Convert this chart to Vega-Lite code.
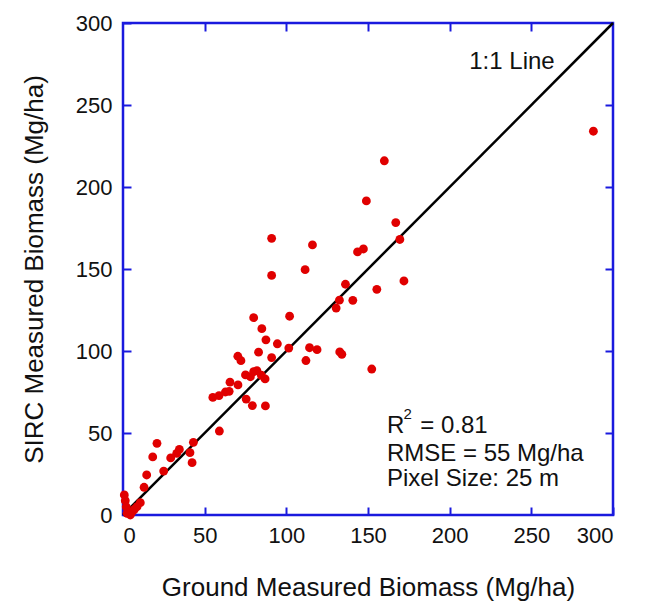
{
  "$schema": "https://vega.github.io/schema/vega-lite/v6.json",
  "autosize": {"type": "none"},
  "padding": {"left": 123, "top": 23, "right": 43, "bottom": 86},
  "width": 490,
  "height": 492,
  "background": "white",
  "config": {
    "view": {"stroke": "#1a1ade", "strokeWidth": 2.5},
    "font": "Liberation Sans",
    "axis": {"grid": false, "domain": false, "tickColor": "#1a1ade", "tickWidth": 2, "tickSize": -8, "labelFont": "Liberation Sans", "labelFontSize": 22, "labelColor": "#111", "titleFont": "Liberation Sans", "titleFontSize": 26, "titleFontWeight": "normal", "titleColor": "#111"}
  },
  "datasets": {
    "pts": [
      {"ground": 288, "sirc": 234}, {"ground": 160, "sirc": 216}, {"ground": 149, "sirc": 191.5}, {"ground": 167, "sirc": 178.3},
      {"ground": 169.5, "sirc": 168}, {"ground": 91, "sirc": 168.7}, {"ground": 116, "sirc": 164.7}, {"ground": 143.6, "sirc": 160.4},
      {"ground": 147.2, "sirc": 162.2}, {"ground": 91, "sirc": 146.1}, {"ground": 111.5, "sirc": 149.6}, {"ground": 136.2, "sirc": 140.7},
      {"ground": 172, "sirc": 142.7}, {"ground": 155.4, "sirc": 137.6}, {"ground": 140.7, "sirc": 130.9}, {"ground": 132.5, "sirc": 131},
      {"ground": 130.5, "sirc": 126.2}, {"ground": 80, "sirc": 120.3}, {"ground": 102, "sirc": 121.2}, {"ground": 85, "sirc": 113.6},
      {"ground": 87.5, "sirc": 106.8}, {"ground": 94.5, "sirc": 104.4}, {"ground": 83, "sirc": 99.3}, {"ground": 101.5, "sirc": 101.8},
      {"ground": 114.2, "sirc": 102}, {"ground": 118.8, "sirc": 100.8}, {"ground": 132.7, "sirc": 99.4}, {"ground": 134, "sirc": 98},
      {"ground": 91, "sirc": 96}, {"ground": 70.3, "sirc": 96.8}, {"ground": 72.2, "sirc": 94.1}, {"ground": 112, "sirc": 94.2},
      {"ground": 152.3, "sirc": 89}, {"ground": 75, "sirc": 85.4}, {"ground": 80, "sirc": 87.4}, {"ground": 82, "sirc": 88},
      {"ground": 87, "sirc": 83}, {"ground": 84.7, "sirc": 85.2}, {"ground": 78, "sirc": 84.3}, {"ground": 65.5, "sirc": 81},
      {"ground": 70.4, "sirc": 79.3}, {"ground": 55, "sirc": 71.7}, {"ground": 58.8, "sirc": 72.8}, {"ground": 62.7, "sirc": 75},
      {"ground": 65, "sirc": 75.4}, {"ground": 75.4, "sirc": 70.7}, {"ground": 79.2, "sirc": 66.7}, {"ground": 87.2, "sirc": 66.5},
      {"ground": 59, "sirc": 51.2}, {"ground": 43.1, "sirc": 44.3}, {"ground": 20.8, "sirc": 43.7}, {"ground": 34.5, "sirc": 40},
      {"ground": 41, "sirc": 38}, {"ground": 42.3, "sirc": 31.9}, {"ground": 29.2, "sirc": 34.8}, {"ground": 18.2, "sirc": 35.4},
      {"ground": 32.9, "sirc": 37.6}, {"ground": 24.9, "sirc": 26.8}, {"ground": 14.5, "sirc": 24.4}, {"ground": 12.9, "sirc": 16.9},
      {"ground": 0.8, "sirc": 12.2}, {"ground": 1.4, "sirc": 8.7}, {"ground": 10.6, "sirc": 7.5}, {"ground": 8.6, "sirc": 5.1},
      {"ground": 4.5, "sirc": 0}, {"ground": 5.7, "sirc": 2}, {"ground": 2.5, "sirc": 1}, {"ground": 7, "sirc": 3.5}, {"ground": 2, "sirc": 5}
    ],
    "line": [{"x": 0, "y": 0, "x2": 300, "y2": 300}],
    "notes": [
      {"x": 212, "y": 272, "t": "1:1 Line"},
      {"x": 161.6, "y": 49.8, "t": "R"},
      {"x": 182, "y": 49.8, "t": "= 0.81"},
      {"x": 161.6, "y": 32.8, "t": "RMSE = 55 Mg/ha"},
      {"x": 161.6, "y": 17.6, "t": "Pixel Size: 25 m"}
    ],
    "sup": [{"x": 171.7, "y": 58.7, "t": "2"}]
  },
  "layer": [
    {
      "data": {"name": "line"},
      "mark": {"type": "rule", "color": "black", "strokeWidth": 2.5},
      "encoding": {
        "x": {"field": "x", "type": "quantitative", "scale": {"domain": [0, 300], "nice": false},
              "axis": {"orient": "bottom", "values": [0, 50, 100, 150, 200, 250, 300], "labelPadding": 18, "title": "Ground Measured Biomass (Mg/ha)", "titlePadding": 28}},
        "y": {"field": "y", "type": "quantitative", "scale": {"domain": [0, 300], "nice": false},
              "axis": {"orient": "left", "values": [0, 50, 100, 150, 200, 250, 300], "labelPadding": 19, "title": "SIRC Measured Biomass (Mg/ha)", "titlePadding": 28}},
        "x2": {"field": "x2"},
        "y2": {"field": "y2"}
      }
    },
    {
      "data": {"name": "pts"},
      "mark": {"type": "circle", "color": "#e00000", "opacity": 1, "size": 78},
      "encoding": {
        "x": {"field": "ground", "type": "quantitative", "axis": {"orient": "top", "values": [50, 100, 150, 200, 250], "labels": false, "title": null}},
        "y": {"field": "sirc", "type": "quantitative", "axis": {"orient": "right", "values": [50, 100, 150, 200, 250], "labels": false, "title": null}}
      }
    },
    {
      "data": {"name": "notes"},
      "mark": {"type": "text", "align": "left", "baseline": "alphabetic", "fontSize": 24, "font": "Liberation Sans", "color": "#111"},
      "encoding": {
        "x": {"field": "x", "type": "quantitative", "axis": null},
        "y": {"field": "y", "type": "quantitative", "axis": null},
        "text": {"field": "t"}
      }
    },
    {
      "data": {"name": "sup"},
      "mark": {"type": "text", "align": "left", "baseline": "alphabetic", "fontSize": 15, "font": "Liberation Sans", "color": "#111"},
      "encoding": {
        "x": {"field": "x", "type": "quantitative", "axis": null},
        "y": {"field": "y", "type": "quantitative", "axis": null},
        "text": {"field": "t"}
      }
    }
  ],
  "resolve": {"axis": {"x": "independent", "y": "independent"}}
}
